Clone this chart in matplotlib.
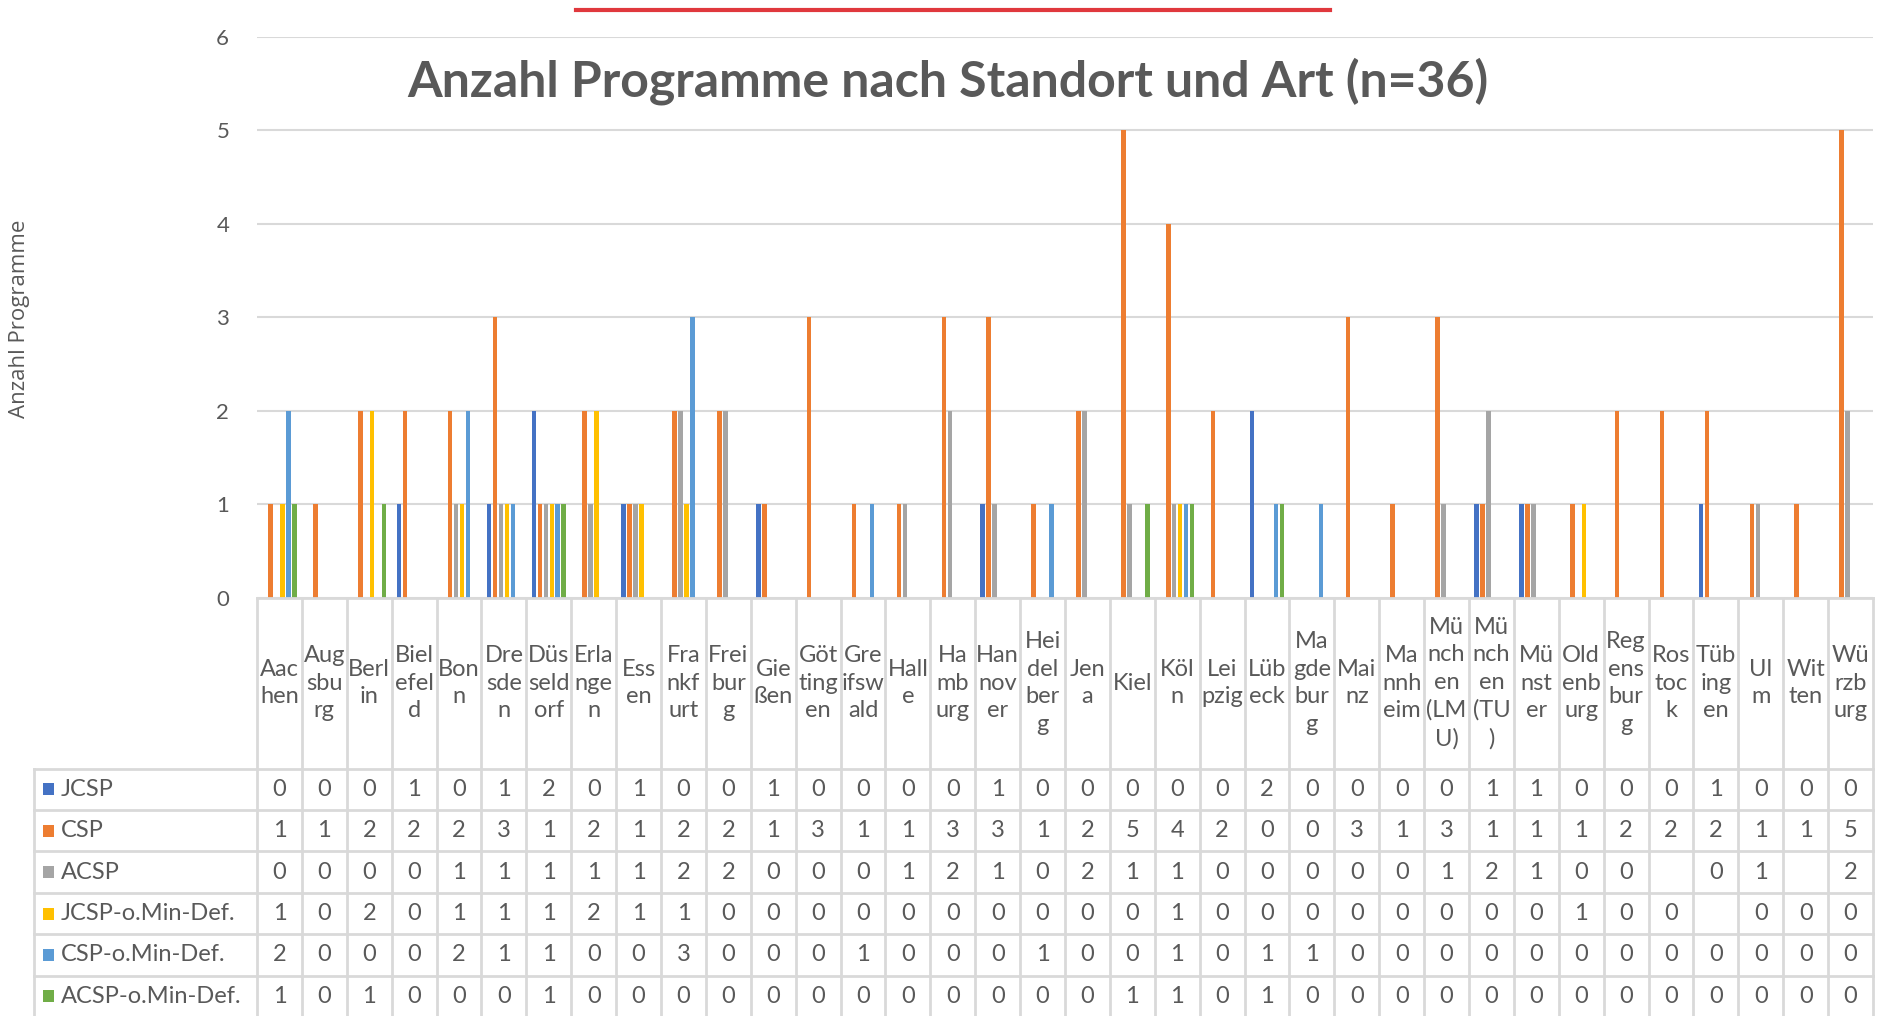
import numpy as np
import matplotlib
matplotlib.use("Agg")
import matplotlib.pyplot as plt
from matplotlib.transforms import blended_transform_factory
from matplotlib.patches import Rectangle
from matplotlib.lines import Line2D

plt.rcParams["font.family"] = ["Lato", "DejaVu Sans"]

cities = ["Aachen", "Augsburg", "Berlin", "Bielefeld", "Bonn", "Dresden", "Düsseldorf",
          "Erlangen", "Essen", "Frankfurt", "Freiburg", "Gießen", "Göttingen", "Greifswald",
          "Halle", "Hamburg", "Hannover", "Heidelberg", "Jena", "Kiel", "Köln", "Leipzig",
          "Lübeck", "Magdeburg", "Mainz", "Mannheim", "München (LMU)", "München (TU)",
          "Münster", "Oldenburg", "Regensburg", "Rostock", "Tübingen", "Ulm", "Witten", "Würzburg"]

# labels wrapped the way the spreadsheet wrapped them
tick_labels = ["Aac\nhen", "Aug\nsbu\nrg", "Berl\nin", "Biel\nefel\nd", "Bon\nn", "Dre\nsde\nn",
               "Düs\nseld\norf", "Erla\nnge\nn", "Ess\nen", "Fra\nnkf\nurt", "Frei\nbur\ng",
               "Gie\nßen", "Göt\nting\nen", "Gre\nifsw\nald", "Hall\ne", "Ha\nmb\nurg",
               "Han\nnov\ner", "Hei\ndel\nber\ng", "Jen\na", "Kiel", "Köl\nn", "Lei\npzig",
               "Lüb\neck", "Ma\ngde\nbur\ng", "Mai\nnz", "Ma\nnnh\neim", "Mü\nnch\nen\n(LM\nU)",
               "Mü\nnch\nen\n(TU\n)", "Mü\nnst\ner", "Old\nenb\nurg", "Reg\nens\nbur\ng",
               "Ros\ntoc\nk", "Tüb\ning\nen", "Ul\nm", "Wit\nten", "Wü\nrzb\nurg"]

jcsp = [0, 0, 0, 1, 0, 1, 2, 0, 1, 0, 0, 1, 0, 0, 0, 0, 1, 0, 0, 0,
        0, 0, 2, 0, 0, 0, 0, 1, 1, 0, 0, 0, 1, 0, 0, 0]
csp = [1, 1, 2, 2, 2, 3, 1, 2, 1, 2, 2, 1, 3, 1, 1, 3, 3, 1, 2, 5,
       4, 2, 0, 0, 3, 1, 3, 1, 1, 1, 2, 2, 2, 1, 1, 5]
acsp = [0, 0, 0, 0, 1, 1, 1, 1, 1, 2, 2, 0, 0, 0, 1, 2, 1, 0, 2, 1,
        1, 0, 0, 0, 0, 0, 1, 2, 1, 0, 0, None, 0, 1, None, 2]
jcsp_o = [1, 0, 2, 0, 1, 1, 1, 2, 1, 1, 0, 0, 0, 0, 0, 0, 0, 0, 0, 0,
          1, 0, 0, 0, 0, 0, 0, 0, 0, 1, 0, 0, None, 0, 0, 0]
csp_o = [2, 0, 0, 0, 2, 1, 1, 0, 0, 3, 0, 0, 0, 1, 0, 0, 0, 1, 0, 0,
         1, 0, 1, 1, 0, 0, 0, 0, 0, 0, 0, 0, 0, 0, 0, 0]
acsp_o = [1, 0, 1, 0, 0, 0, 1, 0, 0, 0, 0, 0, 0, 0, 0, 0, 0, 0, 0, 1,
          1, 0, 1, 0, 0, 0, 0, 0, 0, 0, 0, 0, 0, 0, 0, 0]

series_names = ["JCSP", "CSP", "ACSP", "JCSP-o.Min-Def.", "CSP-o.Min-Def.", "ACSP-o.Min-Def."]
series = [jcsp, csp, acsp, jcsp_o, csp_o, acsp_o]
colors = ["#4472C4", "#ED7D31", "#A5A5A5", "#FFC000", "#5B9BD5", "#70AD47"]

TXT = "#595959"
GRID = "#d9d9d9"
W, H = 1889, 1016

fig = plt.figure(figsize=(W / 100, H / 100), dpi=100)
fig.patch.set_facecolor("white")

def fy(py):
    return 1 - py / H

ax_l, ax_r, ax_t, ax_b = 257, 1873, 37, 597.5
ax = fig.add_axes([ax_l / W, fy(ax_b), (ax_r - ax_l) / W, (ax_b - ax_t) / H])

n = len(cities)
x = np.arange(n)
for j, vals in enumerate(series):
    v = np.array([0 if val is None else val for val in vals], dtype=float)
    ax.bar(x + (j - 2.5) * 0.133, v, width=0.1, color=colors[j], zorder=3)

ax.set_xlim(-0.5, n - 0.5)
ax.set_ylim(0, 6)
ax.set_yticks(range(7))
ax.set_xticks([])
ax.grid(True, axis="y", color=GRID, linewidth=1.5, zorder=0)
for s in ax.spines.values():
    s.set_visible(False)
ax.tick_params(axis="y", length=0, pad=20, labelsize=16, labelcolor=TXT)

# data table below the plot
tr = blended_transform_factory(ax.transData, fig.transFigure)
head_top = ax_b
head_bot = 768.6
row_h = 41.4
rows_bot = head_bot + 6 * row_h
leg_l = 34

def hline(y, x0=-0.5, x1=n - 0.5):
    ax.add_line(Line2D([x0, x1], [fy(y), fy(y)], transform=tr, color=GRID,
                       linewidth=2, clip_on=False, zorder=4))

hline(head_top)
for k in range(7):
    y = head_bot + k * row_h
    hline(y)
    fig.add_artist(Line2D([leg_l / W, ax_l / W], [fy(y), fy(y)], color=GRID, linewidth=2))
for i in range(n + 1):
    ax.add_line(Line2D([i - 0.5, i - 0.5], [fy(head_top), fy(rows_bot)], transform=tr,
                       color=GRID, linewidth=2, clip_on=False, zorder=4))
fig.add_artist(Line2D([leg_l / W, leg_l / W], [fy(head_bot), fy(rows_bot)],
                      color=GRID, linewidth=2))

for i, lab in enumerate(tick_labels):
    ax.text(i, fy((head_top + head_bot) / 2), lab, transform=tr, ha="center", va="center",
            fontsize=17, color=TXT, linespacing=1.38)

for j, vals in enumerate(series):
    yc = fy(head_bot + (j + 0.5) * row_h)
    fig.add_artist(Rectangle((43 / W, yc - 6 / H), 11 / W, 12 / H,
                             facecolor=colors[j], edgecolor="none"))
    fig.text(61 / W, yc, series_names[j], ha="left", va="center", fontsize=17, color=TXT)
    for i, val in enumerate(vals):
        if val is not None:
            ax.text(i, yc, str(val), transform=tr, ha="center", va="center",
                    fontsize=17, color=TXT)

fig.text(948 / W, fy(81), "Anzahl Programme nach Standort und Art (n=36)",
         ha="center", va="center", fontsize=36, fontweight="bold", color=TXT)
fig.text(20 / W, fy(319), "Anzahl Programme", rotation=90, ha="center", va="center",
         fontsize=16, color=TXT, family=["Open Sans", "DejaVu Sans"])

fig.add_artist(Line2D([576 / W, 1330 / W], [fy(10), fy(10)], color="#E0383D", linewidth=3))

fig.savefig("out.png", dpi=100, facecolor="white")
